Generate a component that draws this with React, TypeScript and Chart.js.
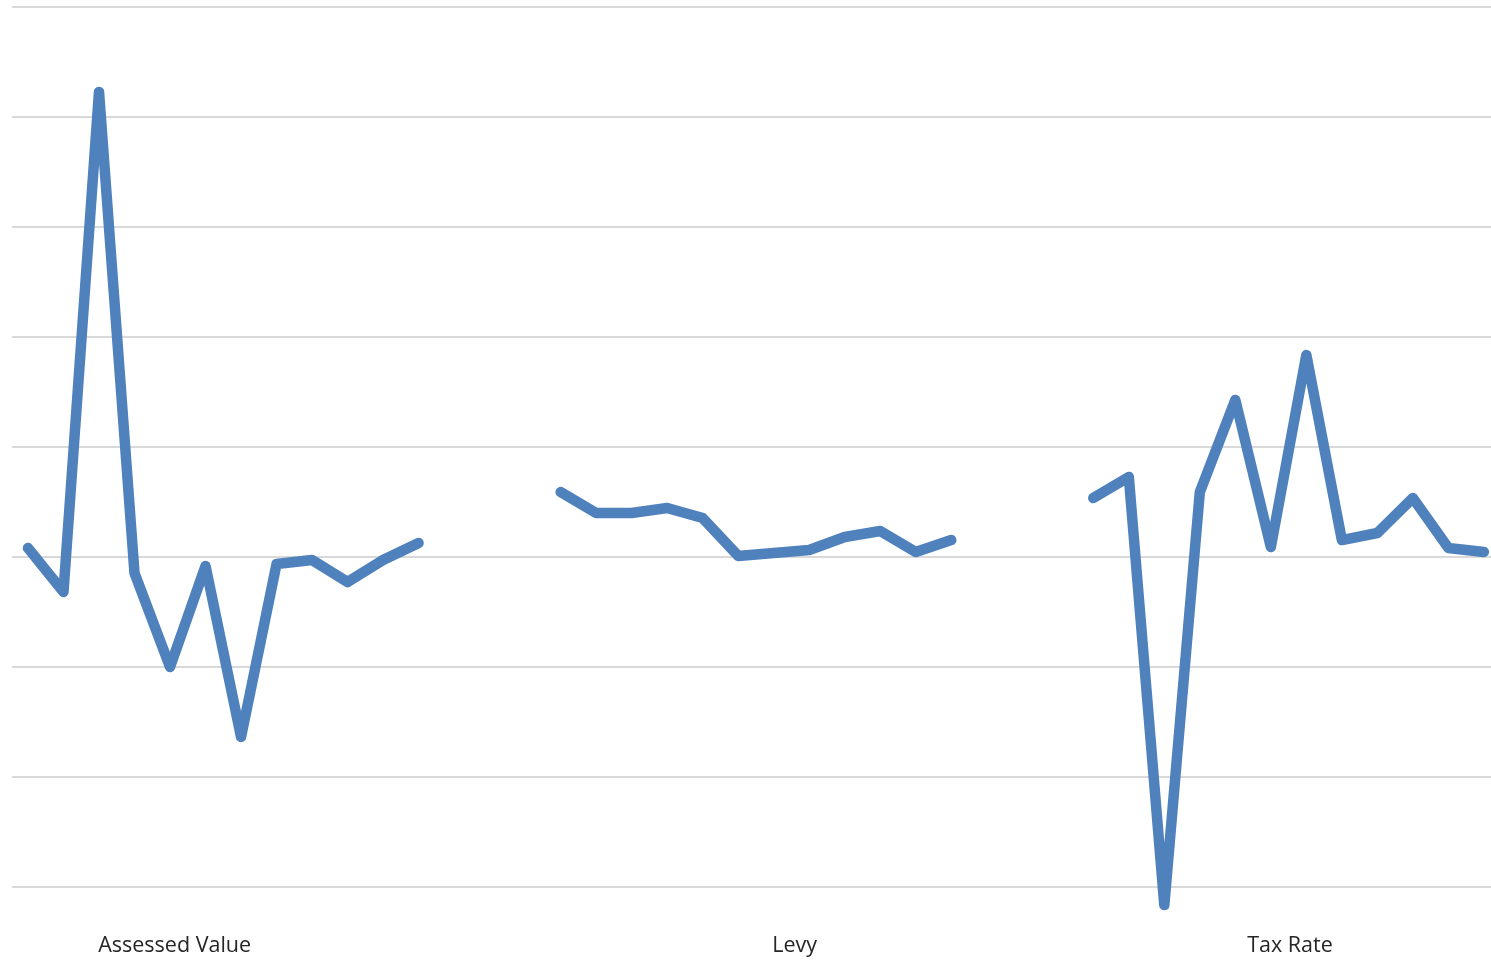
import React, { useEffect, useRef } from "react";
import { Chart, registerables } from "chart.js";

Chart.register(...registerables);

// Year-over-year change (%) for each measure; nulls separate the three groups.
const assessedValue = [0.41, -1.59, 21.14, -0.73, -5.0, -0.41, -8.18, -0.32, -0.14, -1.14, -0.14, 0.64];
const levy = [2.95, 2.0, 2.0, 2.23, 1.77, 0.05, 0.18, 0.32, 0.91, 1.18, 0.23, 0.77];
const taxRate = [2.68, 3.64, -15.82, 2.95, 7.14, 0.45, 9.18, 0.77, 1.09, 2.68, 0.41, 0.23];

const groupLabels = ["Assessed Value", "Levy", "Tax Rate"];
// Where each group's caption sits along the x axis (in point-index units).
const groupLabelPositions = [4.13, 21.59, 35.54];

const gap = [null, null, null];
const series: (number | null)[] = [...assessedValue, ...gap, ...levy, ...gap, ...taxRate];

export default function App() {
  const canvasRef = useRef<HTMLCanvasElement | null>(null);

  useEffect(() => {
    if (!canvasRef.current) return;
    const chart = new Chart(canvasRef.current, {
      type: "line",
      data: {
        datasets: [
          {
            data: series.map((y, i) => ({ x: i, y })),
            borderColor: "#4f81bd",
            borderWidth: 10.5,
            borderCapStyle: "round",
            borderJoinStyle: "round",
            pointRadius: 0,
            spanGaps: false,
            tension: 0,
            clip: false as any,
          },
        ],
      },
      options: {
        animation: false,
        responsive: true,
        maintainAspectRatio: false,
        layout: { padding: { left: 12, top: 7, right: 0, bottom: 0 } },
        plugins: { legend: { display: false }, tooltip: { enabled: false } },
        scales: {
          x: {
            type: "linear",
            min: -0.45,
            max: 41.2,
            grid: { display: false, drawTicks: false },
            border: { display: false },
            afterBuildTicks: (axis: any) => {
              axis.ticks = groupLabelPositions.map((v) => ({ value: v }));
            },
            afterFit: (axis: any) => {
              axis.height = 77;
            },
            ticks: {
              autoSkip: false,
              maxRotation: 0,
              padding: 46,
              color: "#262626",
              font: { family: "'Open Sans', sans-serif", size: 21.5 },
              callback: (value: any) => {
                const idx = groupLabelPositions.indexOf(Number(value));
                return idx >= 0 ? groupLabels[idx] : "";
              },
            },
          },
          y: {
            min: -15,
            max: 25,
            ticks: { display: false, stepSize: 5 },
            grid: { color: "#d9d9d9", lineWidth: 2, drawTicks: false },
            border: { display: false },
          },
        },
      },
    });
    return () => chart.destroy();
  }, []);

  return (
    <div style={{ position: "absolute", left: 0, top: 0, width: 1491, height: 964, background: "#fff" }}>
      <canvas ref={canvasRef} />
    </div>
  );
}
